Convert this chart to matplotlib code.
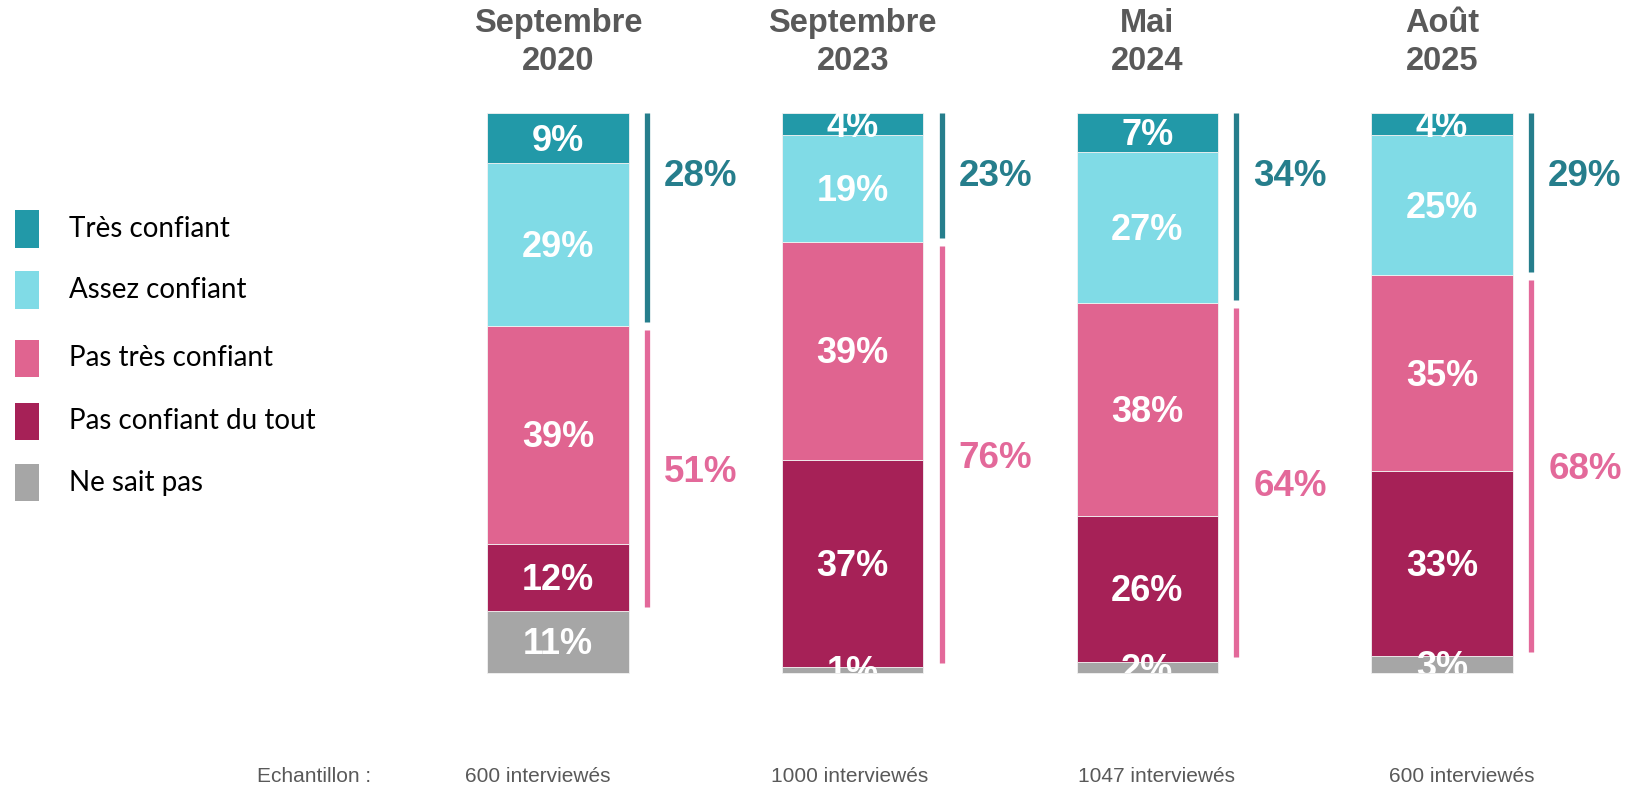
import matplotlib as mpl
mpl.use("Agg")
import matplotlib.pyplot as plt
import numpy as np
from matplotlib.patches import Rectangle
from matplotlib.transforms import Bbox, TransformedBbox

mpl.rcParams["font.family"] = ["Liberation Sans", "DejaVu Sans"]

periods = ["Septembre\n2020", "Septembre\n2023", "Mai\n2024", "Août\n2025"]
samples = ["600 interviewés", "1000 interviewés", "1047 interviewés", "600 interviewés"]
categories = ["Très confiant", "Assez confiant", "Pas très confiant",
              "Pas confiant du tout", "Ne sait pas"]
tres = [9, 4, 7, 4]
assez = [29, 19, 27, 25]
pas_tres = [39, 39, 38, 35]
pas_du_tout = [12, 37, 26, 33]
nsp = [11, 1, 2, 3]
total_confiant = [28, 23, 34, 29]
total_pas = [51, 76, 64, 68]

COLORS = ["#2299A8", "#80DBE6", "#E06490", "#A62157", "#A6A6A6"]
TEAL_LINE, PINK_LINE = "#267E8C", "#E3699A"
GREY_TXT = "#595959"
SAMPLE_DX = [-0.07, -0.011, 0.032, 0.068]   # sample captions are not quite centred

fig = plt.figure(figsize=(16.49, 7.88), dpi=100)
ax = fig.add_axes([0, 0, 1, 1])
ax.set_xlim(-1.893, 3.702)
ax.set_ylim(-20.54, 120.18)
ax.axis("off")

x = np.arange(len(periods))
clip = TransformedBbox(Bbox([[-2, 0], [4, 100]]), ax.transData)

# stacked bars, bottom to top
stack = [nsp, pas_du_tout, pas_tres, assez, tres]
bottom = np.zeros(len(x))
for vals, col in zip(stack, COLORS[::-1]):
    vals = np.array(vals, dtype=float)
    ax.bar(x, vals, 0.48, bottom=bottom, color=col, edgecolor="#f2f2f2", lw=0.6)
    for xi, v, b in zip(x, vals, bottom):
        t = ax.text(xi, b + v / 2 - 0.5, f"{int(v)}%", ha="center", va="center",
                    color="white", fontsize=26, fontweight="bold", clip_on=True)
        t.set_clip_box(clip)
    bottom += vals

# brackets with totals
bx = x + 0.302
conf_bound = 100 - np.array(tres) - np.array(assez)
ax.vlines(bx, conf_bound + 0.6, 100, color=TEAL_LINE, lw=3.8)
ax.vlines(bx, np.array(nsp) + 0.8, conf_bound - 0.8, color=PINK_LINE, lw=3.8)
for xi, tc, tp, cb, n in zip(bx, total_confiant, total_pas, conf_bound, nsp):
    ax.text(xi + 0.058, 88.6, f"{tc}%", ha="left", va="center", color=TEAL_LINE,
            fontsize=26.5, fontweight="bold")
    ax.text(xi + 0.058, (cb + n) / 2 - 0.7, f"{tp}%", ha="left", va="center",
            color=PINK_LINE, fontsize=26.5, fontweight="bold")

# column titles and sample sizes
for xi, p, s, dx in zip(x, periods, samples, SAMPLE_DX):
    ax.text(xi, 112.6, p, ha="center", va="center", color=GREY_TXT, fontsize=23.5,
            fontweight="bold", linespacing=1.3)
    ax.text(xi + dx, -18.5, s, ha="center", va="center", color=GREY_TXT, fontsize=15)
ax.text(-1.021, -18.5, "Echantillon :", ha="left", va="center", color=GREY_TXT, fontsize=15)

# legend
W, H = 1649, 788
for cat, col, cy in zip(categories, COLORS, [229, 290, 358, 421, 483]):
    ax.add_patch(Rectangle((15 / W, 1 - (cy + 18.5) / H), 24 / W, 37 / H,
                           transform=ax.transAxes, color=col, lw=0))
    ax.text(69 / W, 1 - cy / H, cat, transform=ax.transAxes, ha="left", va="center",
            fontsize=20, family=["Lato", "DejaVu Sans"], color="black")

fig.savefig("out.png", dpi=100)
